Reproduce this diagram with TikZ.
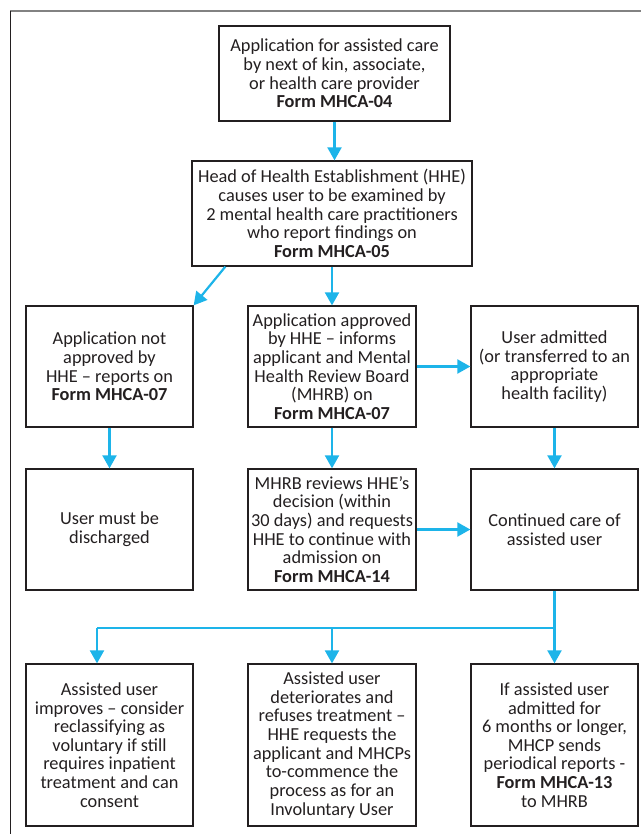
\documentclass[tikz,border=0pt]{standalone}
\usepackage{fontspec}
\setmainfont{Carlito}
\usetikzlibrary{arrows.meta}
\definecolor{flow}{RGB}{29,180,233}
\definecolor{ink}{RGB}{35,31,32}
\definecolor{framegray}{RGB}{130,130,130}
\tikzset{
  box/.style={draw=ink, line width=1.3bp, inner sep=0pt, align=center,
    text=ink, font=\fontsize{18.4}{18.7}\selectfont},
  wbox/.style={box, minimum width=167bp, minimum height=121bp},
  tallbox/.style={box, minimum width=167bp, minimum height=162bp},
  arr/.style={draw=flow, line width=2.2bp, -{Triangle[length=13bp,width=14bp]}},
  link/.style={draw=flow, line width=2.2bp},
}
\begin{document}
\begin{tikzpicture}[x=1bp,y=-1bp]
\useasboundingbox (0,0) rectangle (641,834);
% frame
\draw[framegray, line width=1.5bp] (10,11) -- (641,11);
\draw[ink, line width=1.5bp] (10.5,11) -- (10.5,834);

\node[box, minimum width=231bp, minimum height=95bp] (top) at (334.5,73.5)
  {Application for assisted care\\by next of kin, associate,\\or health care provider\\\textbf{Form MHCA-04}};
\node[box, minimum width=280bp, minimum height=105bp] (head) at (332,213.5)
  {Head of Health Establishment (HHE)\\causes user to be examined by\\2 mental health care practitioners\\who report findings on\\\textbf{Form MHCA-05}};

\node[wbox] (L1) at (109.5,366.5) {Application not\\approved by\\HHE -- reports on\\\textbf{Form MHCA-07}};
\node[wbox, minimum width=168bp] (M1) at (332,366.5) {Application approved\\by HHE -- informs\\applicant and Mental\\Health Review Board\\(MHRB) on\\\textbf{Form MHCA-07}};
\node[wbox] (R1) at (554.5,366.5) {User admitted\\(or transferred to an\\appropriate\\health facility)};

\node[wbox] (L2) at (109.5,529.5) {User must be\\discharged};
\node[wbox, minimum width=168bp] (M2) at (332,529.5) {MHRB reviews HHE’s\\decision (within\\30 days) and requests\\HHE to continue with\\admission on\\\textbf{Form MHCA-14}};
\node[wbox] (R2) at (554.5,529.5) {Continued care of\\assisted user};

\node[tallbox] (L3) at (109.5,745) {Assisted user\\improves -- consider\\reclassifying as\\voluntary if still\\requires inpatient\\treatment and can\\consent};
\node[tallbox, minimum width=168bp] (M3) at (332,745) {Assisted user\\deteriorates and\\refuses treatment --\\HHE requests the\\applicant and MHCPs\\to-commence the\\process as for an\\Involuntary User};
\node[tallbox] (R3) at (554.5,745) {If assisted user\\admitted for\\6 months or longer,\\MHCP sends\\periodical reports -\\\textbf{Form MHCA-13}\\to MHRB};

% connectors
\draw[arr] (top.south) -- (top.south |- head.north);
\draw[arr] ([xshift=34bp]head.south west) -- (L1.north east);
\draw[arr] (head.south -| M1.north) -- (M1.north);
\draw[arr] (L1) -- (L2);
\draw[arr] (M1) -- (M2);
\draw[arr] (R1) -- (R2);
\draw[arr] (M1.east) -- (R1.west);
\draw[arr] (M2.east) -- (R2.west);

\coordinate (bus) at (554.5,628);
\coordinate (bL) at (97,628);
\coordinate (bM) at (332,628);
\draw[arr] (R2.south) -- (R3.north);
\draw[link] (bus) -- (bL);
\draw[arr] (bL) -- (bL |- L3.north);
\draw[arr] (bM) -- (M3.north);
\end{tikzpicture}
\end{document}
